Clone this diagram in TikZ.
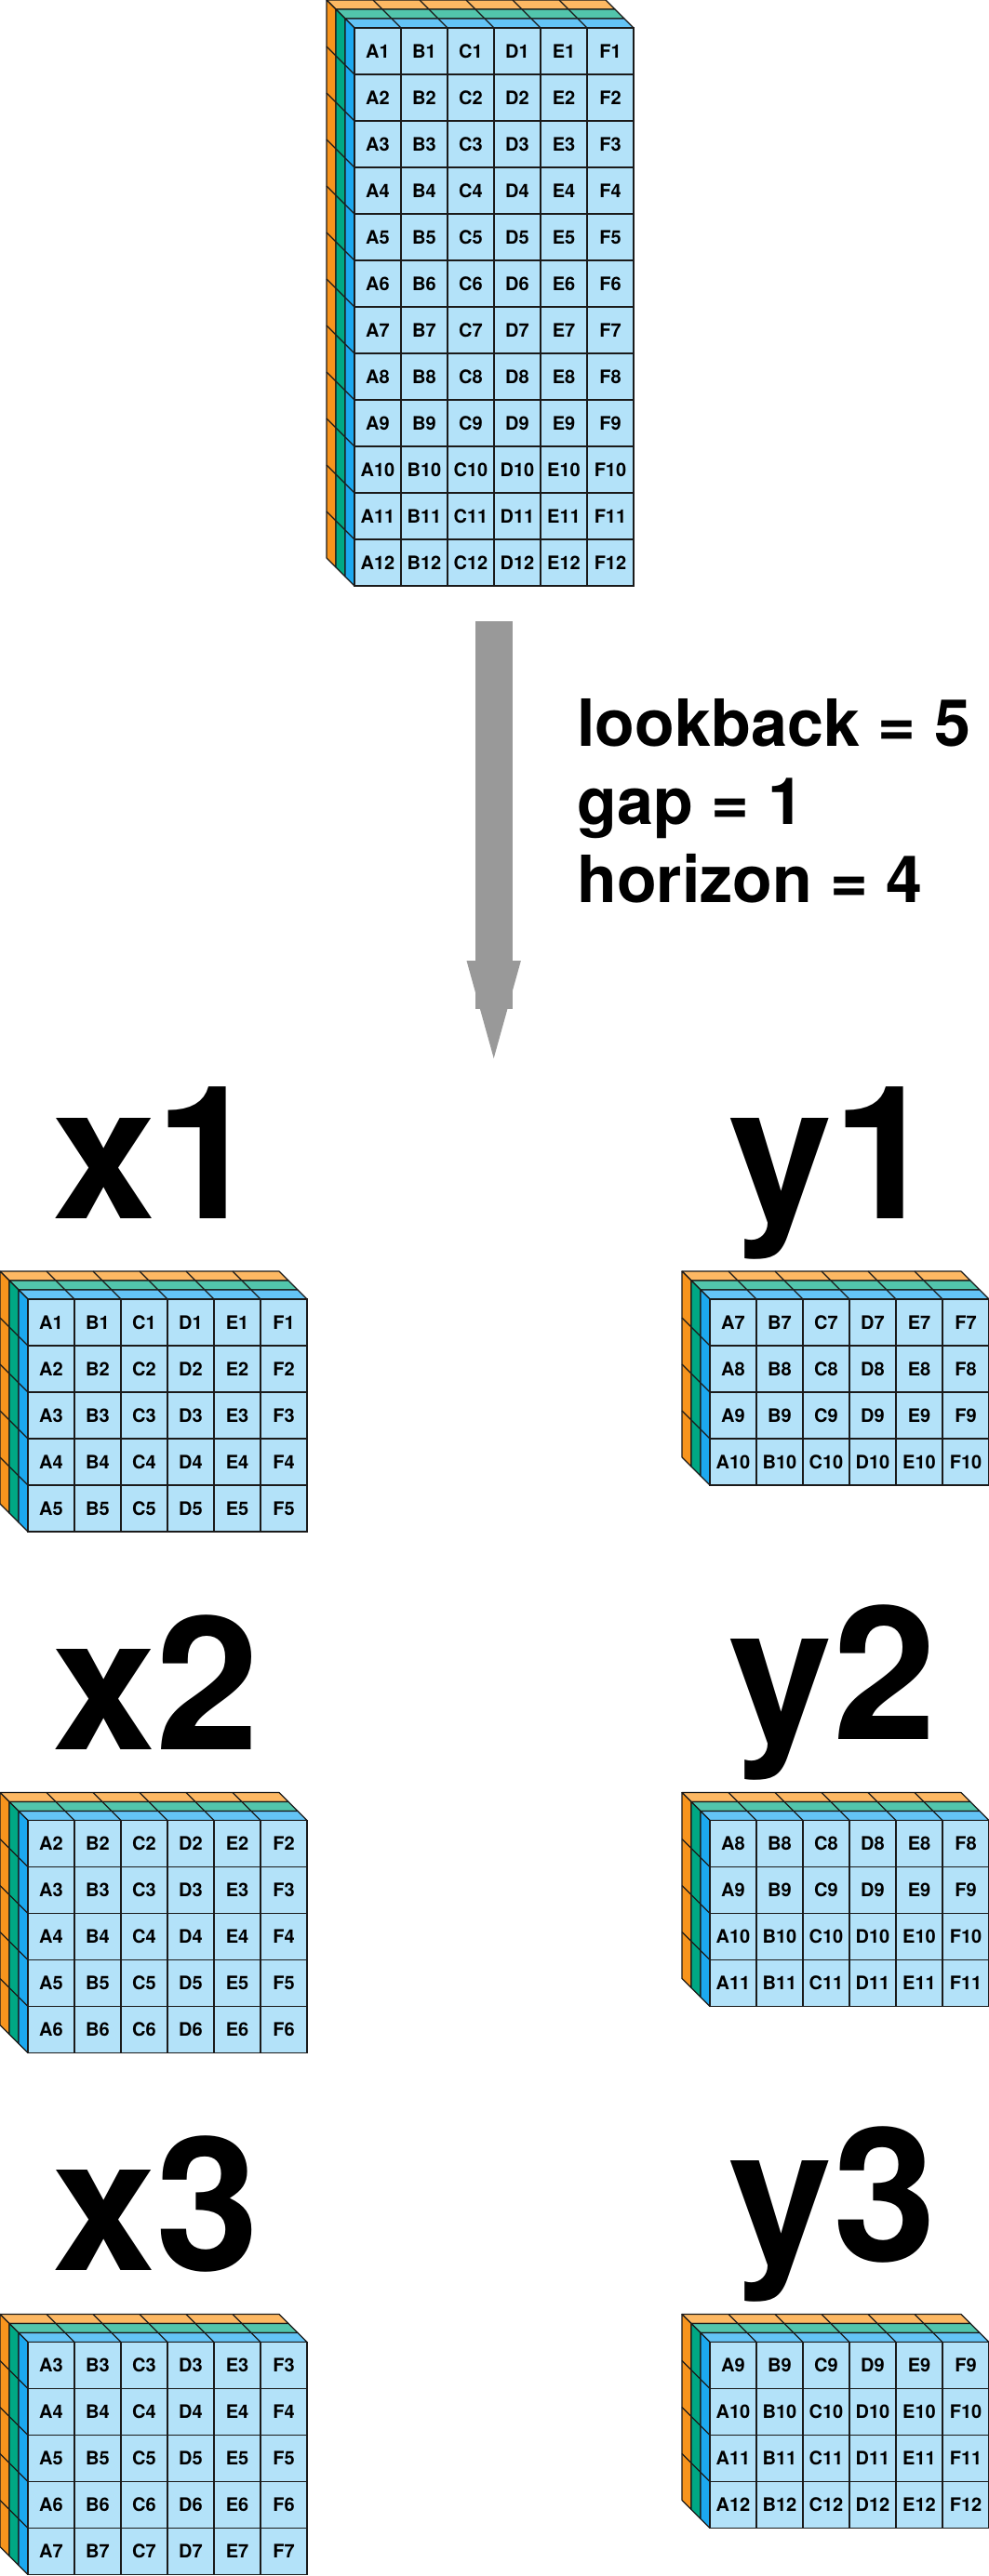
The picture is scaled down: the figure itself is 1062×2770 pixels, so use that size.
\documentclass[tikz,border=0pt]{standalone}
\usepackage{fontspec}
\setmainfont{TeX Gyre Heros}

\definecolor{cellblue}{HTML}{B3E2F9}
\definecolor{bluetop}{HTML}{64C4F6}
\definecolor{blueside}{HTML}{1CA8EF}
\definecolor{greentop}{HTML}{52C5AC}
\definecolor{greenside}{HTML}{00A884}
\definecolor{orangetop}{HTML}{FDB863}
\definecolor{orangeside}{HTML}{F7941D}
\definecolor{outline}{HTML}{1A1A1A}
\definecolor{arrowgray}{HTML}{999999}

% #1 name, (#2,#3) front top-left corner, #4 rows, #5 first row index
\newcommand{\datablock}[5]{%
  \pgfmathtruncatemacro{\lastrow}{#4-1}
  \foreach \k/\sidecol/\topcol in {2/orangeside/orangetop,1/greenside/greentop,0/blueside/bluetop}{
    \pgfmathsetmacro{\ox}{#2-10*\k}
    \pgfmathsetmacro{\oy}{#3-10*\k}
    \filldraw[face,fill=\topcol] (\ox,\oy) -- ++(300,0) -- ++(-10,-10) -- ++(-300,0) -- cycle;
    \filldraw[face,fill=\sidecol] (\ox,\oy) -- ++(0,50*#4) -- ++(-10,-10) -- ++(0,-50*#4) -- cycle;
    \foreach \i in {1,...,5} \draw[face] (\ox+50*\i,\oy) -- ++(-10,-10);
    \foreach \j in {1,...,\lastrow} \draw[face] (\ox,\oy+50*\j) -- ++(-10,-10);
  }
  \foreach \c [count=\ci from 0] in {A,B,C,D,E,F}{
    \foreach \r in {1,...,#4}{
      \pgfmathtruncatemacro{\idx}{#5+\r-1}
      \node[cell] (#1-\c\idx) at (#2+50*\ci+25,#3+50*\r-25) {\c\idx};
    }
  }
}

\begin{document}
\begin{tikzpicture}[x=0.5pt,y=-0.5pt,
    face/.style={draw=outline,line width=0.6pt,line join=round},
    cell/.style={draw=outline,line width=0.6pt,fill=cellblue,minimum width=25pt,minimum height=25pt,inner sep=0pt,font=\fontsize{10}{12}\selectfont\bfseries},
    biglabel/.style={anchor=base west,inner sep=0pt,font=\fontsize{100}{120}\selectfont\bfseries},
    paramlabel/.style={anchor=base west,inner sep=0pt,font=\fontsize{35}{42}\selectfont\bfseries}]
    \useasboundingbox (0,0) rectangle (1062,2770);

    % full series
    \datablock{data}{381}{30}{12}{1}

    % window arrow
    \coordinate (arrowstart) at (530.7,668);
    \coordinate (arrowtip) at (530.7,1138);
    \fill[arrowgray] (arrowstart) ++(-19.8,0) rectangle ++(39.6,417);
    \fill[arrowgray] (arrowtip) -- ++(-29.2,-105) -- ++(58.4,0) -- cycle;

    \node[paramlabel] (lookback) at (620,802) {lookback = 5};
    \node[paramlabel] (gap) at (620,886.5) {gap = 1};
    \node[paramlabel] (horizon) at (620,970) {horizon = 4};

    % samples
    \node[biglabel] (lblx1) at (56,1310) {x1};
    \node[biglabel] (lbly1) at (783.5,1310) {y1};
    \datablock{x1}{30}{1397}{5}{1}
    \datablock{y1}{763}{1397}{4}{7}

    \node[biglabel] (lblx2) at (56,1881) {x2};
    \node[biglabel] (lbly2) at (783.5,1870.5) {y2};
    \datablock{x2}{30}{1957.5}{5}{2}
    \datablock{y2}{763}{1957.5}{4}{8}

    \node[biglabel] (lblx3) at (56,2441.7) {x3};
    \node[biglabel] (lbly3) at (783.5,2431) {y3};
    \datablock{x3}{30}{2518.4}{5}{3}
    \datablock{y3}{763}{2518.4}{4}{9}
\end{tikzpicture}
\end{document}
